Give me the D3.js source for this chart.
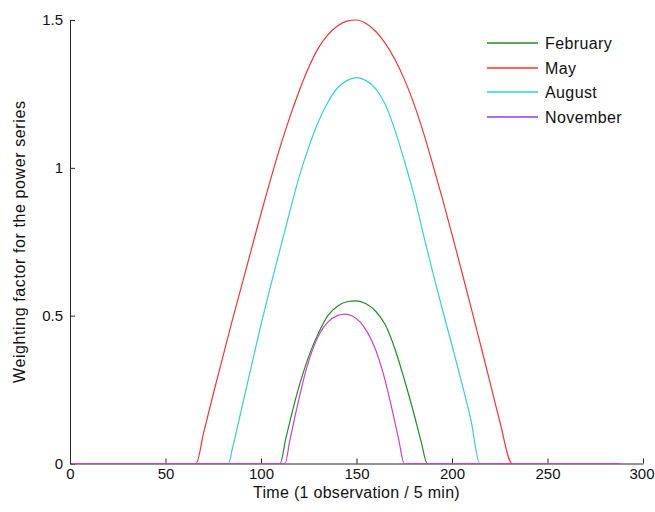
<!DOCTYPE html>
<html>
<head>
<meta charset="utf-8">
<script src="https://cdn.jsdelivr.net/npm/d3@7"></script>
<style>
    body { margin: 0; background: #fff; }
    svg { display: block; font-family: 'Liberation Sans', Arial, sans-serif; }
</style>
</head>
<body>
<svg id="chart" width="655" height="512"></svg>
<script>
'use strict';

// Values (time step -> weighting factor)
var febTime = [1, 110, 113, 116, 119, 122, 126, 130, 135, 140, 145, 150, 155, 160, 165, 170, 175, 180, 184, 187, 288];
var febValue = [0, 0, 0.085, 0.165, 0.24, 0.305, 0.38, 0.44, 0.5, 0.532, 0.547, 0.55, 0.54, 0.515, 0.47, 0.39, 0.285, 0.17, 0.07, 0, 0];

var mayTime = [1, 66, 70, 75, 80, 85, 90, 95, 100, 105, 110, 115, 120, 125, 130, 135, 140, 145, 150, 155,
    160, 165, 170, 175, 180, 185, 190, 195, 200, 205, 210, 215, 220, 225, 231.5, 288];
var mayValue = [0, 0, 0.105, 0.235, 0.36, 0.485, 0.605, 0.725, 0.845, 0.96, 1.07, 1.17, 1.26, 1.34, 1.405, 1.45, 1.48, 1.496, 1.5, 1.488,
    1.462, 1.422, 1.368, 1.3, 1.218, 1.12, 1.01, 0.895, 0.775, 0.652, 0.527, 0.4, 0.272, 0.143, 0, 0];

var augTime = [1, 83, 85, 90, 95, 100, 105, 110, 115, 120, 125, 130, 135, 140, 145, 150, 155, 160, 165,
    170, 175, 180, 185, 190, 195, 200, 205, 210, 214.5, 288];
var augValue = [0, 0, 0.05, 0.19, 0.33, 0.47, 0.6, 0.725, 0.85, 0.97, 1.07, 1.155, 1.222, 1.27, 1.295, 1.305, 1.295, 1.268, 1.215,
    1.13, 1.025, 0.91, 0.775, 0.645, 0.52, 0.4, 0.275, 0.145, 0, 0];

var novTime = [1, 112.6, 115, 118, 121, 124, 127, 131, 135, 140, 144, 148, 152, 156, 160, 164, 168, 172, 175, 288];
var novValue = [0, 0, 0.075, 0.165, 0.25, 0.325, 0.385, 0.443, 0.478, 0.5, 0.505, 0.498, 0.478, 0.44, 0.385, 0.305, 0.2, 0.085, 0, 0];

var seriesNames = ['February', 'May', 'August', 'November'];
var xTicks = [0, 50, 100, 150, 200, 250, 300];
var yTicks = [0, 0.5, 1, 1.5];

(function() {
    var svg = d3.select('#chart'),
        margin = {left: 70, right: 12, top: 20, bottom: 48.5},
        width = 655 - margin.left - margin.right,
        height = 512 - margin.top - margin.bottom,
        axisColor = '#262626',
        fontSize = '16px';

    var series = [
        {name: seriesNames[0], t: febTime, v: febValue, color: '#1f8f1f', legend: '#1f8f1f'},
        {name: seriesNames[1], t: mayTime, v: mayValue, color: '#ff3030', legend: '#ff3030'},
        {name: seriesNames[2], t: augTime, v: augValue, color: '#30d4d4', legend: '#30d4d4'},
        {name: seriesNames[3], t: novTime, v: novValue, color: '#cc40d0', legend: '#9038e8'}
    ];

    var x = d3.scaleLinear().domain([0, 300]).range([0, width]),
        y = d3.scaleLinear().domain([0, 1.5]).range([height, 0]);

    var g = svg.append('g')
        .attr('transform', `translate(${margin.left}, ${margin.top})`);

    // Axes, MATLAB style: ticks point inward, no box
    var xAxis = g.append('g')
        .attr('transform', `translate(0, ${height})`)
        .call(d3.axisBottom(x).tickValues(xTicks).tickSizeInner(-5).tickSizeOuter(0).tickPadding(5));

    var yAxis = g.append('g')
        .call(d3.axisLeft(y).tickValues(yTicks).tickSizeInner(-5).tickSizeOuter(0).tickPadding(7)
            .tickFormat(d3.format('')));

    [xAxis, yAxis].forEach(ax => {
        ax.select('.domain').attr('stroke', axisColor).attr('stroke-width', 1);
        ax.selectAll('.tick line').attr('stroke', axisColor);
        ax.selectAll('.tick text')
            .attr('fill', '#111')
            .style('font-size', '15px')
            .style('font-family', "'Liberation Sans', Arial, sans-serif");
    });

    // keep the last x label inside the window, as in the reference
    xAxis.selectAll('.tick text')
        .filter(d => d === 300)
        .attr('dx', -1.5);

    var line = d3.line()
        .x(d => x(d[0]))
        .y(d => y(d[1]))
        .curve(d3.curveMonotoneX);

    series.forEach(s => {
        var pts = s.t.map((t, i) => [t, s.v[i]]);
        g.append('path')
            .datum(pts)
            .attr('fill', 'none')
            .attr('stroke', s.color)
            .attr('stroke-width', 1.2)
            .attr('d', line);
    });

    // Axis labels
    g.append('text')
        .attr('x', width / 2)
        .attr('y', height + 34)
        .attr('text-anchor', 'middle')
        .style('font-size', fontSize)
        .style('letter-spacing', '0.3px')
        .attr('fill', '#111')
        .text('Time (1 observation / 5 min)');

    svg.append('text')
        .attr('transform', `translate(25, ${margin.top + height / 2}) rotate(-90)`)
        .attr('text-anchor', 'middle')
        .style('font-size', fontSize)
        .style('letter-spacing', '0.6px')
        .attr('fill', '#111')
        .text('Weighting factor for the power series');

    // Legend, no frame; rows snapped to whole pixels so the lines stay crisp
    var legend = svg.append('g')
        .attr('transform', 'translate(487, 43)');

    series.forEach((s, i) => {
        var row = legend.append('g')
            .attr('transform', `translate(0, ${Math.round(i * 24.5)})`);
        row.append('line')
            .attr('x1', 0).attr('x2', 51)
            .attr('y1', 0).attr('y2', 0)
            .attr('stroke', s.legend)
            .attr('stroke-width', 1.6);
        row.append('text')
            .attr('x', 58)
            .attr('y', 6)
            .style('font-size', fontSize)
            .style('letter-spacing', '0.4px')
            .attr('fill', '#111')
            .text(s.name);
    });
})();
</script>
</body>
</html>
